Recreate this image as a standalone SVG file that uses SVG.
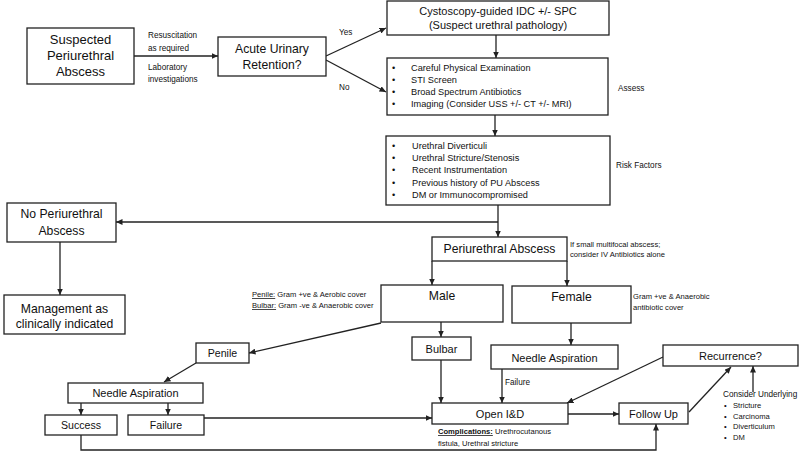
<svg xmlns="http://www.w3.org/2000/svg" width="800" height="452" viewBox="0 0 800 452">
<style>
text{font-family:"Liberation Sans",Arial,sans-serif;fill:#111}
.b{fill:#fff;stroke:#222;stroke-width:1.3}
.t13{font-size:13px;text-anchor:middle}
.t12{font-size:12.2px;text-anchor:middle}
.t11{font-size:11px;text-anchor:middle}
.t10{font-size:10.6px;text-anchor:middle}
.l9{font-size:9.2px}
.s8{font-size:8.2px}
.s75{font-size:7.6px}
.c path,.c line,.c polyline{stroke:#222;stroke-width:1.3;fill:none}
.u{text-decoration:underline}
</style>
<defs>
<marker id="a" markerUnits="userSpaceOnUse" markerWidth="7" markerHeight="6" refX="6.5" refY="3" orient="auto">
<path d="M0,0 L6.5,3 L0,6 z" fill="#222"/>
</marker>
</defs>
<rect width="800" height="452" fill="#fff"/>
<g class="c" marker-end="url(#a)">
<line x1="134" y1="56" x2="218" y2="56" marker-end="url(#a)"/>
<line x1="326" y1="56" x2="386" y2="28" marker-end="url(#a)"/>
<line x1="326" y1="60" x2="386" y2="92" marker-end="url(#a)"/>
<line x1="496" y1="35" x2="496" y2="58" marker-end="url(#a)"/>
<line x1="495" y1="115" x2="495" y2="136" marker-end="url(#a)"/>
<line x1="498" y1="205" x2="498" y2="237" marker-end="url(#a)"/>
<line x1="498" y1="222" x2="116" y2="222" marker-end="url(#a)"/>
<line x1="60" y1="242" x2="60" y2="295" marker-end="url(#a)"/>
<line x1="432" y1="261" x2="432" y2="285" marker-end="url(#a)"/>
<line x1="567" y1="261" x2="567" y2="286" marker-end="url(#a)"/>
<line x1="381" y1="323" x2="249" y2="353" marker-end="url(#a)"/>
<line x1="441" y1="322" x2="441" y2="337" marker-end="url(#a)"/>
<line x1="571" y1="323" x2="571" y2="345" marker-end="url(#a)"/>
<line x1="196" y1="363" x2="164" y2="382" marker-end="url(#a)"/>
<line x1="81" y1="403" x2="81" y2="415" marker-end="url(#a)"/>
<line x1="168" y1="403" x2="168" y2="415" marker-end="url(#a)"/>
<line x1="204" y1="418" x2="432" y2="418" marker-end="url(#a)"/>
<polyline points="81,435 81,450 656,450 656,424" marker-end="url(#a)"/>
<line x1="441" y1="360" x2="441" y2="403" marker-end="url(#a)"/>
<line x1="502" y1="369" x2="502" y2="403" marker-end="url(#a)"/>
<line x1="568" y1="414" x2="619" y2="414" marker-end="url(#a)"/>
<line x1="689" y1="412" x2="731" y2="367" marker-end="url(#a)"/>
<line x1="663" y1="357" x2="567" y2="403" marker-end="url(#a)"/>
<line x1="753" y1="392" x2="753" y2="366" marker-end="url(#a)"/>
</g>
<g id="labels">
<text class="s8" x="148" y="38">Resuscitation</text>
<text class="s8" x="148" y="51">as required</text>
<text class="s8" x="148" y="70">Laboratory</text>
<text class="s8" x="148" y="82">investigations</text>
<text class="s8" x="339" y="35">Yes</text>
<text class="s8" x="339" y="90">No</text>
<text class="s8" x="618" y="91">Assess</text>
<text class="s8" x="616" y="168">Risk Factors</text>
<text class="s75" x="570" y="247">If small multifocal abscess;</text>
<text class="s75" x="570" y="257">consider IV Antibiotics alone</text>
<text class="s75" x="633" y="299">Gram +ve &amp; Anaerobic</text>
<text class="s75" x="633" y="310">antibiotic cover</text>
<text class="s75" x="252" y="297"><tspan class="u">Penile:</tspan> Gram +ve &amp; Aerobic cover</text>
<text class="s75" x="252" y="308"><tspan class="u">Bulbar:</tspan> Gram -ve &amp; Anaerobic cover</text>
<text class="s8" x="505" y="385">Failure</text>
<text class="s75" x="438" y="434"><tspan class="u" font-weight="bold">Complications:</tspan> Urethrocutanous</text>
<text class="s75" x="438" y="446">fistula, Urethral stricture</text>
<text class="s8" x="723" y="397">Consider Underlying</text>
<text class="s75" x="724" y="408">•</text><text class="s75" x="733" y="408">Stricture</text>
<text class="s75" x="724" y="418.5">•</text><text class="s75" x="733" y="418.5">Carcinoma</text>
<text class="s75" x="724" y="429">•</text><text class="s75" x="733" y="429">Diverticulum</text>
<text class="s75" x="724" y="439.5">•</text><text class="s75" x="733" y="439.5">DM</text>
</g>
<g id="suspected"><rect class="b" x="27" y="28" width="107" height="56"/>
<text class="t13" x="80.5" y="44">Suspected</text><text class="t13" x="80.5" y="60">Periurethral</text><text class="t13" x="80.5" y="76">Abscess</text></g>
<g id="acute"><rect class="b" x="218" y="37" width="108" height="39"/>
<text class="t12" x="272" y="52.5">Acute Urinary</text><text class="t12" x="272" y="68.5">Retention?</text></g>
<g id="cysto"><rect class="b" x="387" y="1" width="222" height="34"/>
<text class="t11" x="498" y="15">Cystoscopy-guided IDC +/- SPC</text><text class="t11" x="498" y="29">(Suspect urethral pathology)</text></g>
<g id="assess"><rect class="b" x="387" y="58" width="221" height="57"/>
<text class="l9" x="392" y="71">•</text><text class="l9" x="411" y="71">Careful Physical Examination</text>
<text class="l9" x="392" y="83">•</text><text class="l9" x="411" y="83">STI Screen</text>
<text class="l9" x="392" y="95">•</text><text class="l9" x="411" y="95">Broad Spectrum Antibiotics</text>
<text class="l9" x="392" y="107">•</text><text class="l9" x="411" y="107">Imaging (Consider USS +/- CT +/- MRI)</text></g>
<g id="risk"><rect class="b" x="386" y="136" width="224" height="69"/>
<text class="l9" x="392" y="149">•</text><text class="l9" x="412" y="149">Urethral Diverticuli</text>
<text class="l9" x="392" y="161.2">•</text><text class="l9" x="412" y="161.2">Urethral Stricture/Stenosis</text>
<text class="l9" x="392" y="173.4">•</text><text class="l9" x="412" y="173.4">Recent Instrumentation</text>
<text class="l9" x="392" y="185.6">•</text><text class="l9" x="412" y="185.6">Previous history of PU Abscess</text>
<text class="l9" x="392" y="197.8">•</text><text class="l9" x="412" y="197.8">DM or Immunocompromised</text></g>
<g id="noabs"><rect class="b" x="7" y="203" width="109" height="39"/>
<text class="t12" x="61.5" y="218">No Periurethral</text><text class="t12" x="61.5" y="235">Abscess</text></g>
<g id="mgmt"><rect class="b" x="4" y="295" width="121" height="39"/>
<text class="t12" x="64.5" y="312.5">Management as</text><text class="t12" x="64.5" y="328">clinically indicated</text></g>
<g id="periabs"><rect class="b" x="432" y="237" width="135" height="24"/>
<text class="t12" x="499.5" y="253">Periurethral Abscess</text></g>
<g id="male"><rect class="b" x="381" y="285" width="122" height="37"/>
<text class="t12" x="442" y="300">Male</text></g>
<g id="female"><rect class="b" x="512" y="286" width="119" height="37"/>
<text class="t12" x="571.5" y="301">Female</text></g>
<g id="penile"><rect class="b" x="196" y="343" width="53" height="20"/>
<text class="t10" x="222.5" y="357">Penile</text></g>
<g id="bulbar"><rect class="b" x="412" y="337" width="59" height="23"/>
<text class="t11" x="441.5" y="353">Bulbar</text></g>
<g id="needleR"><rect class="b" x="491" y="345" width="127" height="24"/>
<text class="t11" x="554.5" y="362">Needle Aspiration</text></g>
<g id="needleL"><rect class="b" x="68" y="383" width="135" height="20"/>
<text class="t11" x="135.5" y="397">Needle Aspiration</text></g>
<g id="success"><rect class="b" x="45" y="415" width="72" height="20"/>
<text class="t10" x="81" y="429">Success</text></g>
<g id="failure"><rect class="b" x="128" y="415" width="76" height="20"/>
<text class="t10" x="166" y="429">Failure</text></g>
<g id="openid"><rect class="b" x="432" y="403" width="136" height="21"/>
<text class="t11" x="500" y="418">Open I&amp;D</text></g>
<g id="followup"><rect class="b" x="619" y="403" width="69" height="21"/>
<text class="t11" x="653.5" y="418">Follow Up</text></g>
<g id="recurrence"><rect class="b" x="663" y="345" width="135" height="21"/>
<text class="t11" x="730.5" y="360">Recurrence?</text></g>
</svg>
